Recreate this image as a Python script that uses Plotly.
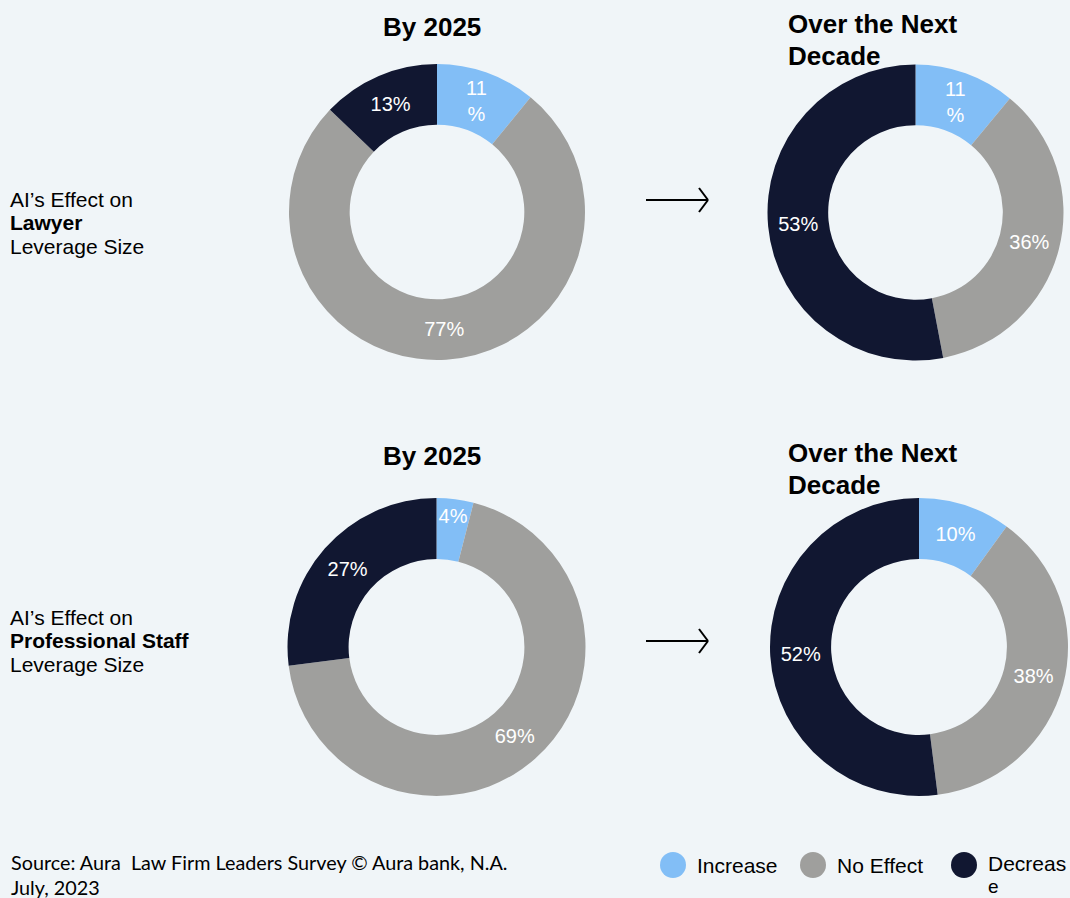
import plotly.graph_objects as go

# ---- data -------------------------------------------------------------
categories = ["Increase", "No Effect", "Decrease"]
colors = ["#82BEF6", "#9F9F9D", "#111731"]

lawyer_2025 = [11, 77, 13]
lawyer_decade = [11, 36, 53]
staff_2025 = [4, 69, 27]
staff_decade = [10, 38, 52]

row_groups = ["Lawyer", "Professional Staff"]
period_titles = ["By 2025", "Over the Next Decade"]
source_lines = ["Source: Aura  Law Firm Leaders Survey © Aura bank, N.A.", "July, 2023"]

W, H = 1070, 898
BG = "#F0F5F8"
SANS = "Liberation Sans, Arial, sans-serif"


def px_x(x):
    return x / W


def px_y(y):
    return 1 - y / H


def domain(cx, cy, r):
    return dict(x=[px_x(cx - r), px_x(cx + r)], y=[px_y(cy + r), px_y(cy - r)])


def pct_labels(values, wrap=()):
    out = []
    for i, v in enumerate(values):
        out.append(f"{v}<br>%" if i in wrap else f"{v}%")
    return out


fig = go.Figure()

donuts = [
    (lawyer_2025, (437, 212, 148), (0,)),
    (lawyer_decade, (915.5, 212.5, 148), (0,)),
    (staff_2025, (436.5, 647, 149), ()),
    (staff_decade, (919, 647, 149), ()),
]

for values, (cx, cy, r), wrap in donuts:
    fig.add_trace(go.Pie(
        labels=categories,
        values=values,
        text=pct_labels(values, wrap),
        textinfo="text",
        textposition="inside",
        insidetextorientation="horizontal",
        textfont=dict(color="white", size=20, family=SANS),
        marker=dict(colors=colors, line=dict(width=0)),
        hole=0.59,
        sort=False,
        direction="clockwise",
        rotation=0,
        domain=domain(cx, cy, r),
        showlegend=False,
        hovertemplate="%{label}: %{value}%<extra></extra>",
    ))

annotations = []
shapes = []


def note(text, x, y, size, bold=False, xanchor="left", yanchor="middle",
         family=SANS, color="black", pad=1):
    if bold:
        text = f"<b>{text}</b>"
    annotations.append(dict(
        text=text, x=px_x(x), y=px_y(y), xref="paper", yref="paper",
        xanchor=xanchor, yanchor=yanchor, showarrow=False, borderpad=pad,
        font=dict(size=size, family=family, color=color), align="left",
    ))


# column titles
for y_top in (27, 456):
    note(period_titles[0], 432, y_top, 26, bold=True, xanchor="center")
    first, second = period_titles[1].rsplit(" ", 1)
    note(first, 786, y_top - 3, 26, bold=True)
    note(second, 786, y_top + 29, 26, bold=True)

# row labels
for group, y_mid in zip(row_groups, (222, 640)):
    note("AI’s Effect on", 8, y_mid - 23, 21)
    note(group, 8, y_mid, 21, bold=True)
    note("Leverage Size", 8, y_mid + 24, 21)

# arrows between the two periods
line_style = dict(color="black", width=2)
for y in (200, 641):
    shapes.append(dict(type="line", xref="paper", yref="paper",
                       x0=px_x(646), x1=px_x(708), y0=px_y(y), y1=px_y(y), line=line_style))
    shapes.append(dict(type="line", xref="paper", yref="paper",
                       x0=px_x(699), x1=px_x(708), y0=px_y(y - 12), y1=px_y(y), line=line_style))
    shapes.append(dict(type="line", xref="paper", yref="paper",
                       x0=px_x(699), x1=px_x(708), y0=px_y(y + 12), y1=px_y(y), line=line_style))

# legend: circle markers with labels (the last label wraps onto a second line)
legend_x = [673, 813, 964]
legend_lines = [["Increase"], ["No Effect"], ["Decreas", "e"]]
for cxl, col, lines in zip(legend_x, colors, legend_lines):
    rr = 13
    shapes.append(dict(type="circle", xref="paper", yref="paper",
                       x0=px_x(cxl - rr), x1=px_x(cxl + rr),
                       y0=px_y(865 + rr), y1=px_y(865 - rr),
                       fillcolor=col, line=dict(width=0)))
    if len(lines) > 1:
        note(lines[0], cxl + 23, 863, 21, pad=0)
        # second line sits against the bottom edge
        note(lines[1], cxl + 23, 898, 19, yanchor="bottom", pad=0)
    else:
        note(lines[0], cxl + 22, 865, 21)

# source
note(source_lines[0], 9, 862, 19.8, family="Lato, sans-serif")
note(source_lines[1], 9, 887, 19.8, family="Lato, sans-serif")

fig.update_layout(
    width=W, height=H,
    margin=dict(l=0, r=0, t=0, b=0),
    paper_bgcolor=BG, plot_bgcolor=BG,
    annotations=annotations, shapes=shapes,
    uniformtext=dict(minsize=20, mode="show"),
)

fig.write_html("out.html")
